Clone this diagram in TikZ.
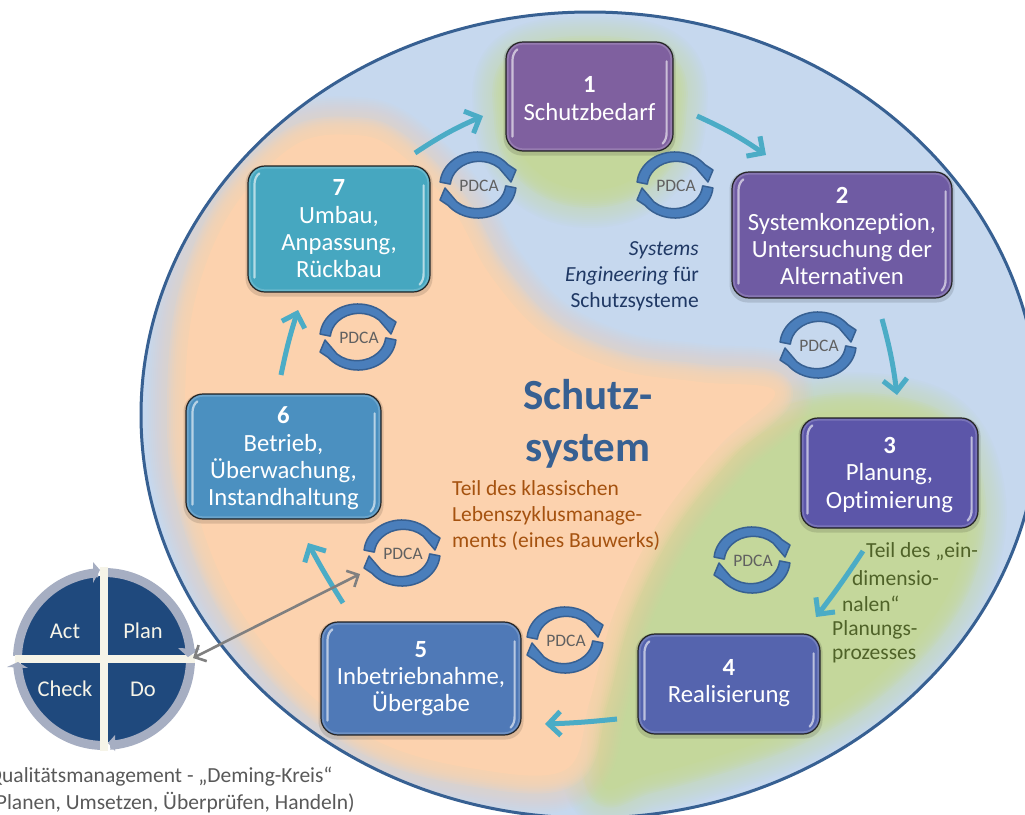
\documentclass[tikz,border=0pt]{standalone}
\usepackage{fontspec}
\setmainfont{Carlito}[Ligatures=NoCommon]
\usetikzlibrary{arrows.meta,calc}
\definecolor{ringblue}{HTML}{376092}
\definecolor{bgblue}{HTML}{C6D8EE}
\definecolor{bggreen}{HTML}{C4D79B}
\definecolor{bgorange}{HTML}{FCD2AE}
\definecolor{flowteal}{HTML}{4BACC6}
\definecolor{pdcablue}{HTML}{4A7EBB}
\definecolor{demingblue}{HTML}{1F497D}
\definecolor{demingring}{HTML}{A6AEC2}
\definecolor{demingcross}{HTML}{F6F4E8}
\definecolor{stgA}{HTML}{7F609F}
\definecolor{stgB}{HTML}{6F5BA3}
\definecolor{stgC}{HTML}{5C56A9}
\definecolor{stgD}{HTML}{5564AE}
\definecolor{stgE}{HTML}{4F79B7}
\definecolor{stgF}{HTML}{4B90C0}
\definecolor{stgG}{HTML}{46A7C0}
\definecolor{txnavy}{HTML}{1F3864}
\definecolor{txbrown}{HTML}{A5520F}
\definecolor{txgreen}{HTML}{4F6228}
\newcommand{\fsz}[2]{\fontsize{#1}{#2}\selectfont}
\newcommand{\softblob}[2]{%
  \foreach \w in {76,72,68,64,60,56,52,48,44,40}{
    \draw[#1,opacity=.05,line width=\w pt,line join=round] #2;
  }
  \foreach \w in {36,32,28,24,20,16,12,8,4}{
    \draw[#1,opacity=.2,line width=\w pt,line join=round] #2;
  }
  \fill[#1] #2;
}
\newcommand{\stagebox}[9]{% name,x,y,w,h,colour,number,text,text offset
  \node[minimum width=#4pt+5pt,minimum height=#5pt+5pt,rounded corners=18pt,fill=black,opacity=.12,inner sep=0] (#1-s) at (#2+#4/2,#3+#5/2+2) {};
  \node[stagebox,fill=#6,minimum width=#4pt,minimum height=#5pt] (#1) at (#2+#4/2,#3+#5/2) {};
  \node[stagetext] (#1-t) at (#2+#4/2,#3+#5/2+#9) {\textbf{#7}\\#8};
  \draw[white,opacity=.18,line width=1.5pt,rounded corners=15pt] ([shift={(2.5,2.5)}]#1.north west) rectangle ([shift={(-2.5,-2.5)}]#1.south east);
  \draw[hilite] ([shift={(12,8)}]#1.north west) .. controls ([shift={(9,10)}]#1.north west) and ([shift={(7,14)}]#1.north west) .. ([shift={(7,20)}]#1.north west) -- ([shift={(7,-15)}]#1.south west);
  \draw[hilite] ([shift={(-7,20)}]#1.north east) -- ([shift={(-7,-19)}]#1.south east) .. controls ([shift={(-7,-15)}]#1.south east) and ([shift={(-8,-11)}]#1.south east) .. ([shift={(-11,-8)}]#1.south east);
}
\tikzset{
  x=1pt,y=-1pt,
  stagebox/.style={draw=black!85,line width=1.2pt,rounded corners=17pt,inner sep=0pt},
  stagetext/.style={text=white,align=center,font=\fsz{24.7}{27.3},inner sep=0pt},
  hilite/.style={white,opacity=.6,line width=2.2pt,line cap=round},
  flow/.style={flowteal,line width=5pt,-{Straight Barb[length=12pt,width=24pt,line width=5pt]}},
  pdcapart/.style={fill=pdcablue,draw=ringblue,line width=1.5pt,line join=round},
  pdca/.pic={
    \foreach \r in {0,180}{
      \draw[pdcapart,rotate=\r] (-37.9,-2.9) arc[start angle=185,end angle=322,x radius=38,y radius=33]
        -- (38,-15) -- (33,-3) -- (21,-17)
        arc[start angle=313,end angle=185,x radius=29,y radius=25] -- cycle;
    }
    \node[text=black!62,font=\fsz{17.5}{20},inner sep=0] (-lbl) at (1,1) {PDCA};
  },
  bodytext/.style={font=\fsz{21.5}{26},inner sep=0pt},
  demingq/.style={fill=demingblue},
  demingarc/.style={demingring,line width=9pt},
  demingtip/.style={fill=demingring},
  deminglabel/.style={text=demingcross,font=\fsz{22.5}{24},inner sep=0pt},
}
\begin{document}
\begin{tikzpicture}
\useasboundingbox (0,0) rectangle (1025,814);
\clip (0,0) rectangle (1025,814);
\fill[white] (0,0) rectangle (1025,814);
% main disc
\begin{scope}
  \clip (590,415) ellipse [x radius=449,y radius=403];
  \fill[bgblue] (0,0) rectangle (1100,830);
  \softblob{bggreen}{plot[smooth cycle,tension=.7] coordinates {(530,62) (650,62) (668,120) (645,170) (590,190) (535,170) (512,120)}}
  \softblob{bggreen}{plot[smooth cycle,tension=.6] coordinates {(810,415) (930,425) (968,500) (950,590) (885,670) (790,730) (650,775) (600,775) (620,600) (700,480)}}
  \softblob{bgorange}{plot[smooth cycle,tension=.6] coordinates {(395,150) (450,205) (490,275) (545,335) (620,370) (700,382) (775,392) (720,445) (660,520) (615,610) (590,700) (565,770) (470,768) (375,740) (295,680) (228,590) (192,490) (185,400) (195,300) (232,210) (295,145) (355,135)}}
\end{scope}
\draw[ringblue,line width=3pt] (590,415) ellipse [x radius=449,y radius=403];

% stages
\stagebox{s1}{506}{42}{167}{109}{stgA}{1}{Schutzbedarf}{2}
\stagebox{s2}{732}{172}{220}{126}{stgB}{2}{Systemkonzeption,\\Untersuchung der\\Alternativen}{1}
\stagebox{s3}{801}{418}{177}{110}{stgC}{3}{Planung,\\Optimierung}{2}
\stagebox{s4}{638}{634}{182}{100}{stgD}{4}{Realisierung}{-1}
\stagebox{s5}{321}{622}{200}{113}{stgE}{5}{Inbetriebnahme,\\Übergabe}{0}
\stagebox{s6}{186}{394}{195}{125}{stgF}{6}{Betrieb,\\Überwachung,\\Instandhaltung}{2}
\stagebox{s7}{248}{166}{182}{126}{stgG}{7}{Umbau,\\Anpassung,\\Rückbau}{0}

% PDCA icons
\pic (p1) at (478,185) {pdca};
\pic (p2) at (675,185) {pdca};
\pic (p3) at (818,345) {pdca};
\pic (p4) at (752,560) {pdca};
\pic (p5) at (565,640) {pdca};
\pic (p6) at (402,553) {pdca};
\pic (p7) at (358,337) {pdca};

% flow arrows
\coordinate (f71a) at (415,153); \coordinate (f71b) at (483,116);
\coordinate (f12a) at (697,116); \coordinate (f12b) at (766,155);
\coordinate (f23a) at (882,319); \coordinate (f23b) at (897,395);
\coordinate (f34a) at (863,551); \coordinate (f34b) at (816,617);
\coordinate (f45a) at (617,719); \coordinate (f45b) at (545,724);
\coordinate (f56a) at (343,603); \coordinate (f56b) at (308,543);
\coordinate (f67a) at (281,375); \coordinate (f67b) at (298,310);
\draw[flow] (f71a) to[bend left=5] (f71b);
\draw[flow] (f12a) to[bend left=5] (f12b);
\draw[flow] (f23a) to[bend left=4] (f23b);
\draw[flow] (f34a) to[bend left=2] (f34b);
\draw[flow] (f45a) to[bend left=2] (f45b);
\draw[flow] (f56a) to[bend left=2] (f56b);
\draw[flow] (f67a) to[bend left=3] (f67b);

% centre texts
\node[text=ringblue,font=\fsz{43}{52}\bfseries,align=center,inner sep=0] (title) at (588,424) {Schutz-\\system};
\node[text=txnavy,bodytext,align=right,anchor=north east] (se) at (699,241) {\textit{Systems}\\\textit{Engineering} für\\Schutzsysteme};
\node[text=txbrown,bodytext,align=left,anchor=north west] (lz) at (452,480) {Teil des klassischen\\Lebenszyklusmanage-\\ments (eines Bauwerks)};
\node[text=txgreen,bodytext,anchor=west] (g1) at (866,552) {Teil des „ein-};
\node[text=txgreen,bodytext,anchor=west] (g2) at (852,578) {dimensio-};
\node[text=txgreen,bodytext,anchor=west] (g3) at (842,604) {nalen“};
\node[text=txgreen,bodytext,anchor=west] (g4) at (832,630) {Planungs-};
\node[text=txgreen,bodytext,anchor=west] (g5) at (832,656) {prozesses};

% Deming circle
\coordinate (dc) at (104,659);
\fill[demingq] (dc) circle[radius=83];
\foreach \a in {0,90,180,270}{
  \draw[demingarc] (dc) ++(\a+2:86.5) arc[start angle=\a+2,end angle=\a+86,radius=86.5];
}
\fill[demingcross] (100,567) rectangle (108,751);
\fill[demingcross] (15,655) rectangle (195,663);
\fill[demingtip] (178,648) -- (200,649) -- (188,657) -- cycle;
\fill[demingtip] (115,735) -- (108,743) -- (115,751) -- cycle;
\fill[demingtip] (7,667) -- (18,662) -- (28,668) -- cycle;
\fill[demingtip] (93,562) -- (100,570) -- (93,583) -- cycle;
\node[deminglabel] (act) at (65,631) {Act};
\node[deminglabel] (plan) at (143,631) {Plan};
\node[deminglabel] (check) at (65,689) {Check};
\node[deminglabel] (do) at (143,689) {Do};
\node[text=black!65,bodytext] (cap1) at (160,777) {Qualitätsmanagement - „Deming-Kreis“};
\node[text=black!65,bodytext] (cap2) at (172,803) {(Planen, Umsetzen, Überprüfen, Handeln)};
\coordinate (dm) at (193,658);
\coordinate (dp) at (360,574);
\draw[black!50,line width=2.6pt,{Straight Barb[length=9pt,width=18pt,line width=2.6pt]}-{Straight Barb[length=9pt,width=18pt,line width=2.6pt]}] (dm) -- (dp);
\end{tikzpicture}
\end{document}
